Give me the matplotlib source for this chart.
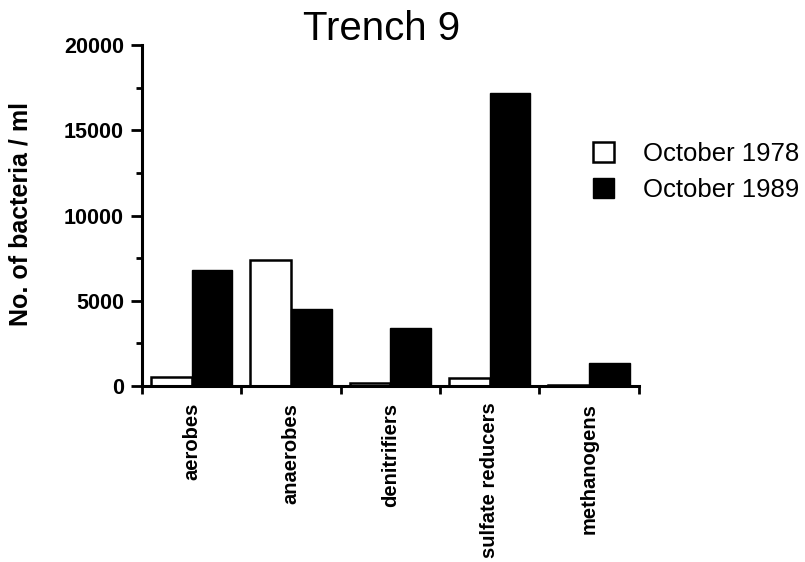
import numpy as np
import matplotlib
matplotlib.use('Agg')
import matplotlib.pyplot as plt
from matplotlib.ticker import MultipleLocator, FixedLocator

plt.rcParams['font.family'] = ['Liberation Sans', 'DejaVu Sans']

# bacteria counts per ml
grupos = ['aerobes', 'anaerobes', 'denitrifiers', 'sulfate reducers', 'methanogens']
out_1978 = [500, 7400, 150, 450, 30]
out_1989 = [6800, 4500, 3400, 17200, 1350]
legendas = ['October 1978', 'October 1989']

fig = plt.figure(figsize=(8.05, 5.62), dpi=100)
ax = fig.add_axes([142 / 805, 1 - 386 / 562, 496.5 / 805, 341 / 562])

x = np.arange(len(grupos))
w = 0.41
ax.bar(x - w / 2, out_1978, width=w, color='white', edgecolor='black',
       linewidth=1.8, label=legendas[0])
ax.bar(x + w / 2, out_1989, width=w, color='black', edgecolor='black',
       linewidth=1.0, label=legendas[1])

ax.set_xlim(-0.5, len(grupos) - 0.5)
ax.set_ylim(0, 20000)

for lado in ['top', 'right']:
    ax.spines[lado].set_visible(False)
for lado in ['left', 'bottom']:
    ax.spines[lado].set_linewidth(2.2)

# eixo y
ax.yaxis.set_major_locator(MultipleLocator(5000))
ax.yaxis.set_minor_locator(MultipleLocator(2500))
ax.tick_params(axis='y', which='major', length=8, width=2, pad=5,
               labelsize=15.5)
ax.tick_params(axis='y', which='minor', length=4, width=2)
for t in ax.get_yticklabels():
    t.set_fontweight('bold')

# eixo x: rótulos nos centros, marcas nas divisões
ax.set_xticks(x)
ax.set_xticklabels(grupos, rotation=90, fontsize=14.5, fontweight='bold')
ax.tick_params(axis='x', which='major', length=0, pad=12)
ax.xaxis.set_minor_locator(FixedLocator(np.arange(-0.5, len(grupos), 1.0)))
ax.tick_params(axis='x', which='minor', length=6, width=2)

fig.text(21 / 805, 1 - 214 / 562, 'No. of bacteria / ml', rotation=90,
         ha='center', va='center', fontsize=18, fontweight='bold')
fig.text(382 / 805, 1 - 40 / 562, 'Trench 9', ha='center', va='baseline',
         fontsize=29)

ax.legend(loc='upper left', bbox_to_anchor=(593 / 805, 1 - 142 / 562),
          bbox_transform=fig.transFigure, frameon=False, fontsize=18.5,
          handlelength=0.8, handleheight=0.85, handletextpad=1.15,
          labelspacing=0.45, borderpad=0, borderaxespad=0)

fig.savefig('out.png', dpi=100)
